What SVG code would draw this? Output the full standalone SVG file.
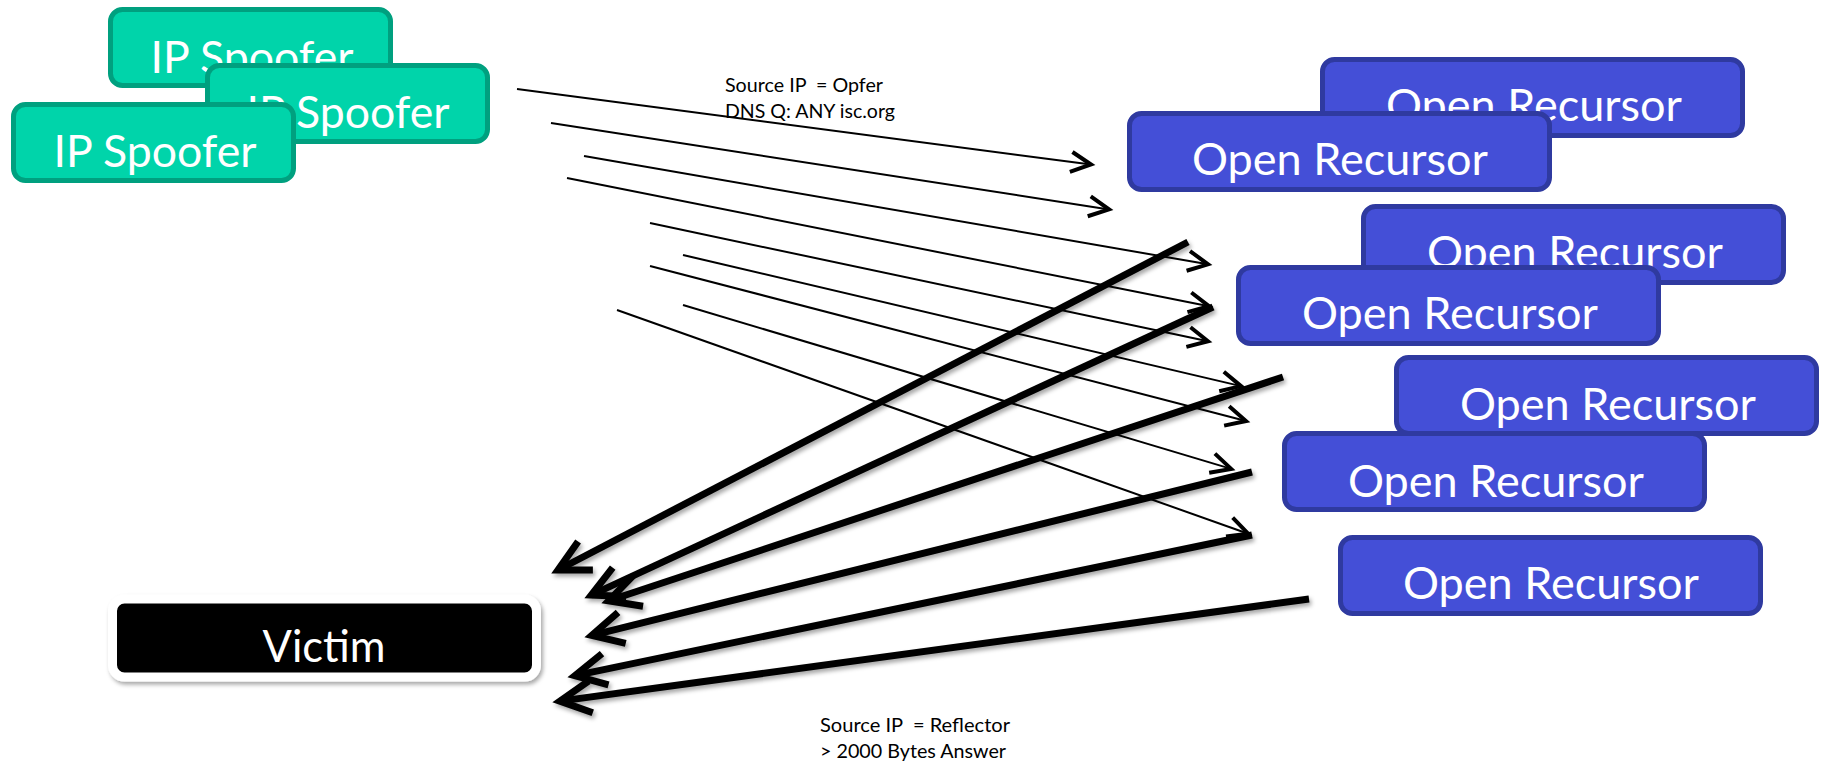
<svg xmlns="http://www.w3.org/2000/svg" width="1821" height="767" viewBox="0 0 1821 767">
<style>
.sp rect{fill:#00D4AA;stroke:#00A07F;stroke-width:5}
.rc rect{fill:#444FD7;stroke:#2F3AA0;stroke-width:5}
.big{font-family:Lato,"Open Sans","Liberation Sans",sans-serif;font-size:45px;fill:#fff;text-anchor:middle}
.small{font-family:Lato,"Open Sans","Liberation Sans",sans-serif;font-size:20px;fill:#000}
.q line{stroke:#000;stroke-width:2;fill:none;marker-end:url(#ahThin)}
.r line{stroke:#000;stroke-width:7;fill:none;marker-end:url(#ahThick)}
</style>
<defs>
<marker id="ahThin" markerUnits="userSpaceOnUse" viewBox="-30 -20 40 40" refX="0" refY="0" markerWidth="40" markerHeight="40" orient="auto" overflow="visible">
<path d="M-20,-10 L0,0 L-20,10" fill="none" stroke="#000" stroke-width="4"/>
</marker>
<marker id="ahThick" markerUnits="userSpaceOnUse" viewBox="-45 -30 60 60" refX="0" refY="0" markerWidth="60" markerHeight="60" orient="auto" overflow="visible">
<path d="M-31,-16 L0,0 L-31,16" fill="none" stroke="#000" stroke-width="7"/>
</marker>
<filter id="sh" x="-10%" y="-10%" width="120%" height="130%">
<feDropShadow dx="2" dy="3" stdDeviation="2" flood-color="#000" flood-opacity="0.35"/>
</filter>
</defs>
<rect width="1821" height="767" fill="#fff"/>

<g id="spoofer1" class="sp"><rect x="110.5" y="9.5" width="280" height="76" rx="12"/><text class="big" x="252" y="73" textLength="203" lengthAdjust="spacingAndGlyphs">IP Spoofer</text></g>
<g id="spoofer2" class="sp"><rect x="207.5" y="65.5" width="280" height="76" rx="12"/><text class="big" x="348" y="128" textLength="203" lengthAdjust="spacingAndGlyphs">IP Spoofer</text></g>
<g id="spoofer3" class="sp"><rect x="13.5" y="104.5" width="280" height="76" rx="12"/><text class="big" x="155" y="167" textLength="203" lengthAdjust="spacingAndGlyphs">IP Spoofer</text></g>

<g id="recursor1" class="rc"><rect x="1322.5" y="59.5" width="420" height="76" rx="12"/><text class="big" x="1534" y="121" textLength="296" lengthAdjust="spacingAndGlyphs">Open Recursor</text></g>
<g id="recursor2" class="rc"><rect x="1129.5" y="113.5" width="420" height="76" rx="12"/><text class="big" x="1340" y="175" textLength="296" lengthAdjust="spacingAndGlyphs">Open Recursor</text></g>
<g id="recursor3" class="rc"><rect x="1363.5" y="206.5" width="420" height="76" rx="12"/><text class="big" x="1575" y="268" textLength="296" lengthAdjust="spacingAndGlyphs">Open Recursor</text></g>
<g id="recursor4" class="rc"><rect x="1238.5" y="267.5" width="420" height="76" rx="12"/><text class="big" x="1450" y="329" textLength="296" lengthAdjust="spacingAndGlyphs">Open Recursor</text></g>
<g id="recursor5" class="rc"><rect x="1396.5" y="357.5" width="420" height="76" rx="12"/><text class="big" x="1608" y="420" textLength="296" lengthAdjust="spacingAndGlyphs">Open Recursor</text></g>
<g id="recursor6" class="rc"><rect x="1284.5" y="433.5" width="420" height="76" rx="12"/><text class="big" x="1496" y="497" textLength="296" lengthAdjust="spacingAndGlyphs">Open Recursor</text></g>
<g id="recursor7" class="rc"><rect x="1340.5" y="537.5" width="420" height="76" rx="12"/><text class="big" x="1551" y="599" textLength="296" lengthAdjust="spacingAndGlyphs">Open Recursor</text></g>

<g id="victim"><rect x="112.5" y="599" width="424" height="78" rx="12" fill="#000" stroke="#fff" stroke-width="9" filter="url(#sh)"/><text class="big" x="324" y="662" textLength="123" lengthAdjust="spacingAndGlyphs">Victim</text></g>

<g id="connectors">
<g class="q">
<line x1="517" y1="89" x2="1091" y2="164.5"/>
<line x1="551" y1="123" x2="1109" y2="209.4"/>
<line x1="584" y1="156" x2="1208" y2="264.3"/>
<line x1="567" y1="178" x2="1209" y2="306.2"/>
<line x1="650" y1="223" x2="1208" y2="341.2"/>
<line x1="683" y1="255" x2="1241" y2="386.1"/>
<line x1="650" y1="266" x2="1246" y2="421"/>
<line x1="683" y1="305" x2="1231.2" y2="468.9"/>
<line x1="617" y1="310" x2="1248.2" y2="533.7"/>
</g>
<g class="r" filter="url(#sh)">
<line x1="1188" y1="242" x2="558" y2="570"/>
<line x1="1213" y1="307" x2="591.3" y2="595.1"/>
<line x1="1283" y1="377" x2="608.6" y2="600.8"/>
<line x1="1252" y1="472" x2="591.8" y2="635.3"/>
<line x1="1252" y1="535" x2="574.9" y2="675.6"/>
<line x1="1309" y1="599" x2="559.9" y2="701.1"/>
</g>
</g>

<g id="labels">
<text class="small" x="725" y="92" xml:space="preserve" textLength="158" lengthAdjust="spacingAndGlyphs">Source IP  = Opfer</text>
<text class="small" x="725" y="118" textLength="170" lengthAdjust="spacingAndGlyphs">DNS Q: ANY isc.org</text>
<text class="small" x="820" y="732" xml:space="preserve" textLength="190" lengthAdjust="spacingAndGlyphs">Source IP  = Reflector</text>
<text class="small" x="820" y="758" textLength="186" lengthAdjust="spacingAndGlyphs">&gt; 2000 Bytes Answer</text>
</g>
</svg>
